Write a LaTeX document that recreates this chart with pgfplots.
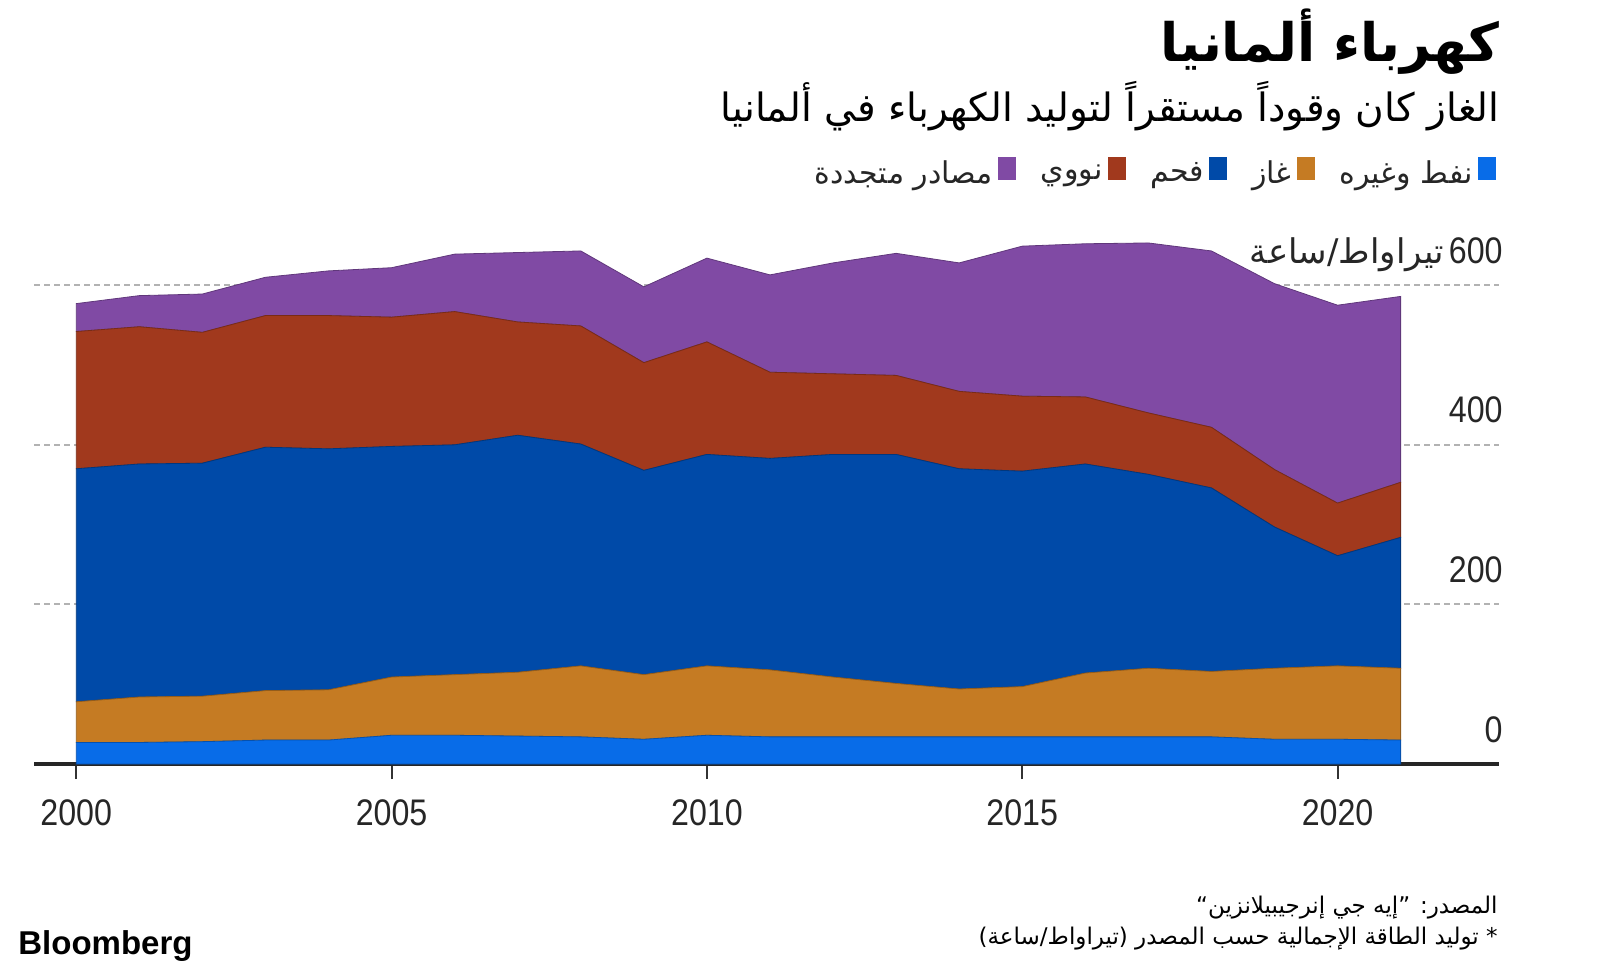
\documentclass[border=0pt]{standalone}
\usepackage{pgfplots}
\usepackage{pgfplotstable}
\pgfplotsset{compat=1.18}
\usepackage{fontspec}
\setmainfont{Liberation Sans}[FakeStretch=0.87]
\newfontfamily\logofont{Liberation Sans}
\newfontfamily\arabicfont[Script=Arabic]{DejaVu Sans}
\TeXXeTstate=1
\newcommand{\AR}[1]{{\arabicfont\beginR #1\endR}}
\definecolor{cOil}{RGB}{8,108,232}
\definecolor{cGas}{RGB}{197,123,35}
\definecolor{cCoal}{RGB}{0,74,168}
\definecolor{cNuc}{RGB}{161,57,29}
\definecolor{cRen}{RGB}{128,74,164}
\pgfplotstableread{
year oil gas coal nuc ren
2000 27 51 292 172 35
2001 27 57 292 172 39
2002 28 57 292 164 48
2003 30 62 305 165 48
2004 30 63 302 167 56
2005 36 73 289 162 62
2006 36 76 288 167 72
2007 35 80 297 142 87
2008 34 89 278 148 94
2009 31 81 256 135 95
2010 36 87 265 141 105
2011 34 84 265 108 122
2012 34 75 279 101 139
2013 34 67 287 99 153
2014 34 60 276 97 161
2015 34 63 270 94 188
2016 34 80 262 84 192
2017 34 86 243 77 213
2018 34 82 230 76 221
2019 31 89 177 72 233
2020 31 92 138 66 248
2021 30 90 164 69 233
}\datatable
\begin{document}
\begin{tikzpicture}
\useasboundingbox (0,0) rectangle (800pt,488pt);
\begin{axis}[
  at={(17pt,106pt)}, anchor=south west,
  scale only axis, width=732.5pt, height=271.3pt,
  xmin=1999.33, xmax=2022.56, ymin=0, ymax=680,
  axis x line*=bottom, axis y line*=right,
  x axis line style={line width=1.6pt, black!85, -},
  y axis line style={draw=none},
  xtick={2000,2005,2010,2015,2020},
  xtick align=outside,
  xtick style={line width=1pt, black!80},
  major tick length=7.5pt,
  ytick={0,200,400,600},
  ytick style={draw=none},
  yticklabels={0,200,400,{{\fontsize{17}{20}\selectfont\AR{تيراواط/ساعة}}\kern2.5pt 600}},
  ymajorgrids,
  grid style={dash pattern=on 3pt off 2pt, line width=1pt, gray!60},
  /pgf/number format/assume math mode=true,
  /pgf/number format/1000 sep={},
  xticklabel style={font=\fontsize{18.5}{20}\selectfont, text=black!85, anchor=north, yshift=-7pt},
  yticklabel style={font=\fontsize{18.5}{20}\selectfont, text=black!85, anchor=base east, inner sep=0pt, xshift=2pt, yshift=11pt},
  stack plots=y,
  legend plot pos=right,
  reverse legend,
  legend image code/.code={\fill[#1,draw=none] (0pt,-3pt) rectangle (9pt,8.5pt);},
  legend style={at={(1.002,1.088)}, anchor=east, draw=none, fill=none,
    font=\arabicfont\fontsize{15}{17}\selectfont, text=black!85,
    legend columns=5, nodes={inner sep=2.5pt},
    /tikz/every even column/.append style={column sep=10pt}},
]
\addplot[fill=cOil, draw=cOil!75!black, line width=0.4pt] table[x=year,y=oil]{\datatable} \closedcycle;
\addlegendentry{\beginR نفط وغيره\endR}
\addplot[fill=cGas, draw=cGas!75!black, line width=0.4pt] table[x=year,y=gas]{\datatable} \closedcycle;
\addlegendentry{\beginR غاز\endR}
\addplot[fill=cCoal, draw=cCoal!75!black, line width=0.4pt] table[x=year,y=coal]{\datatable} \closedcycle;
\addlegendentry{\beginR فحم\endR}
\addplot[fill=cNuc, draw=cNuc!75!black, line width=0.4pt] table[x=year,y=nuc]{\datatable} \closedcycle;
\addlegendentry{\beginR نووي\endR}
\addplot[fill=cRen, draw=cRen!75!black, line width=0.4pt] table[x=year,y=ren]{\datatable} \closedcycle;
\addlegendentry{\beginR مصادر متجددة\endR}
\end{axis}
\node[anchor=base east, inner sep=0pt, font=\arabicfont\bfseries\fontsize{26.5}{30}\selectfont] at (750pt,457pt) {\beginR كهرباء ألمانيا\endR};
\node[anchor=base east, inner sep=0pt, font=\arabicfont\fontsize{19.5}{22}\selectfont] at (750pt,427pt) {\beginR الغاز كان وقوداً مستقراً لتوليد الكهرباء في ألمانيا\endR};
\node[anchor=base east, inner sep=0pt, font=\arabicfont\fontsize{11.5}{13}\selectfont] at (749pt,31.5pt) {\beginR المصدر: ”إيه جي إنرجيبيلانزين“\endR};
\node[anchor=base east, inner sep=0pt, font=\arabicfont\fontsize{11.5}{13}\selectfont] at (749pt,16pt) {\beginR * توليد الطاقة الإجمالية حسب المصدر (تيراواط/ساعة)\endR};
\node[anchor=base west, inner sep=0pt, font=\logofont\bfseries\fontsize{16.5}{18}\selectfont] at (9pt,11pt) {Bloomberg};
\end{tikzpicture}
\end{document}
